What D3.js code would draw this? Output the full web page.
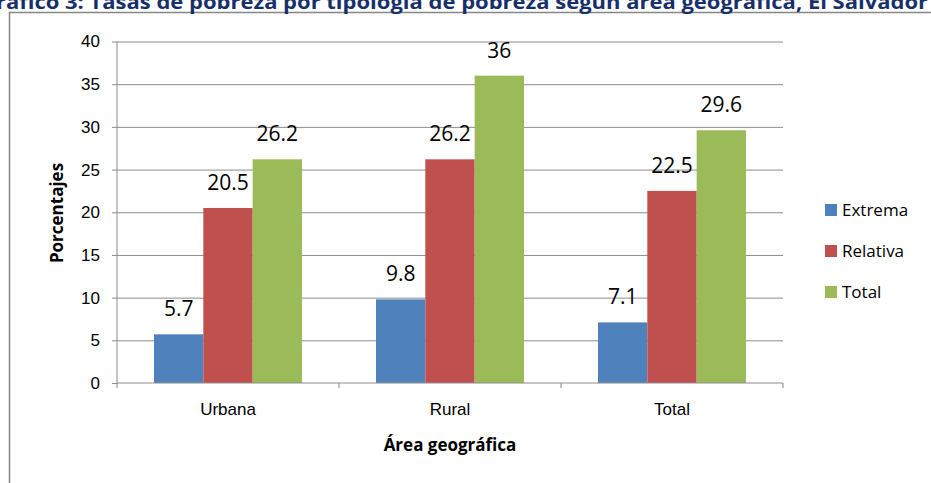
<html lang="es">
<head>
<meta charset="UTF-8">
<script src="https://cdnjs.cloudflare.com/ajax/libs/d3/7.8.5/d3.min.js"></script>
<style>
  body { margin: 0; background: #fff; }
  svg { display: block; font-family: "Open Sans", "Noto Sans", sans-serif; }
  .grid line { stroke: #8c8c8c; }
  .grid .domain { display: none; }
</style>
</head>
<body>
<svg id="chart" width="931" height="483"></svg>
<script>
// data
var categories = ["Urbana", "Rural", "Total"];
var series = ["Extrema", "Relativa", "Total"];
var extrema = [5.7, 9.8, 7.1];
var relativa = [20.5, 26.2, 22.5];
var total = [26.2, 36, 29.6];
var yTicks = [0, 5, 10, 15, 20, 25, 30, 35, 40];
var colors = ["#4f81bd", "#c0504d", "#9bbb59"];

var values = [extrema, relativa, total];
var rows = [];
categories.forEach(function(c, i) {
  series.forEach(function(s, j) {
    rows.push({cat: c, ser: s, v: values[j][i], idx: j});
  });
});

var svg = d3.select("#chart");
var plotL = 117, plotR = 783, plotT = 41.5, plotB = 383;

// frame
svg.append("rect")
  .attr("x", 9.5).attr("y", 12.5)
  .attr("width", 930).attr("height", 500)
  .attr("fill", "none").attr("stroke", "#868686").attr("stroke-width", 1.5);

// title (clipped at top in the original)
svg.append("text")
  .attr("x", -20).attr("y", 9)
  .attr("textLength", 948).attr("lengthAdjust", "spacingAndGlyphs")
  .style("font-size", "19px").style("font-weight", "bold")
  .attr("fill", "#17306b")
  .text("Gráfico 3: Tasas de pobreza por tipología de pobreza según área geográfica, El Salvador");

var y = d3.scaleLinear().domain([0, 40]).range([plotB, plotT]);
var x = d3.scaleBand().domain(categories).range([plotL, plotR]);
var xs = d3.scaleBand().domain(series)
  .range([37, x.bandwidth() - 37]);

// gridlines
svg.append("g").attr("class", "grid")
  .attr("transform", "translate(" + plotL + ",0)")
  .call(d3.axisLeft(y).tickValues(yTicks.slice(1)).tickSize(-(plotR - plotL)).tickFormat(""));

// bars
svg.append("g").selectAll("rect")
  .data(rows).enter().append("rect")
  .attr("x", function(d) { return x(d.cat) + xs(d.ser); })
  .attr("y", function(d) { return y(d.v); })
  .attr("width", xs.bandwidth())
  .attr("height", function(d) { return plotB - y(d.v); })
  .attr("fill", function(d) { return colors[d.idx]; });

// value labels
svg.append("g").selectAll("text")
  .data(rows).enter().append("text")
  .attr("x", function(d) { return x(d.cat) + xs(d.ser) + xs.bandwidth() / 2; })
  .attr("y", function(d) { return y(d.v) - 18; })
  .attr("text-anchor", "middle")
  .style("font-size", "21px").attr("fill", "#000")
  .text(function(d) { return d.v; });

// y axis
var yAxis = svg.append("g")
  .attr("transform", "translate(" + plotL + ",0)")
  .call(d3.axisLeft(y).tickValues(yTicks).tickSize(5).tickPadding(12));
yAxis.select(".domain").attr("stroke", "#8c8c8c").attr("d", "M0," + plotT + "V" + plotB);
yAxis.selectAll(".tick line").attr("stroke", "#8c8c8c");
yAxis.selectAll("text").style("font-size", "17px").attr("fill", "#000");

// x axis
var xAxis = svg.append("g")
  .attr("transform", "translate(0," + plotB + ")")
  .call(d3.axisBottom(x).tickSize(0).tickPadding(20));
xAxis.select(".domain").attr("stroke", "#8c8c8c").attr("d", "M" + plotL + ",0H" + plotR);
xAxis.selectAll("text").style("font-size", "17px").attr("fill", "#000");
xAxis.selectAll(".sep")
  .data(categories.concat(["end"])).enter().append("line")
  .attr("x1", function(d, i) { return plotL + i * x.bandwidth(); })
  .attr("x2", function(d, i) { return plotL + i * x.bandwidth(); })
  .attr("y1", 0).attr("y2", 5).attr("stroke", "#8c8c8c");

// axis titles
svg.append("text")
  .attr("transform", "translate(63,213) rotate(-90)")
  .attr("text-anchor", "middle")
  .style("font-size", "17px").style("font-weight", "bold")
  .text("Porcentajes");
svg.append("text")
  .attr("x", (plotL + plotR) / 2).attr("y", 451)
  .attr("text-anchor", "middle")
  .style("font-size", "17px").style("font-weight", "bold")
  .text("Área geográfica");

// legend
var legend = svg.append("g").selectAll("g")
  .data(series).enter().append("g")
  .attr("transform", function(d, i) { return "translate(825," + (210 + i * 41) + ")"; });
legend.append("rect")
  .attr("x", 0).attr("y", -6).attr("width", 12).attr("height", 12)
  .attr("fill", function(d, i) { return colors[i]; });
legend.append("text")
  .attr("x", 17).attr("y", 6)
  .style("font-size", "17px")
  .text(function(d) { return d; });
</script>
</body>
</html>
